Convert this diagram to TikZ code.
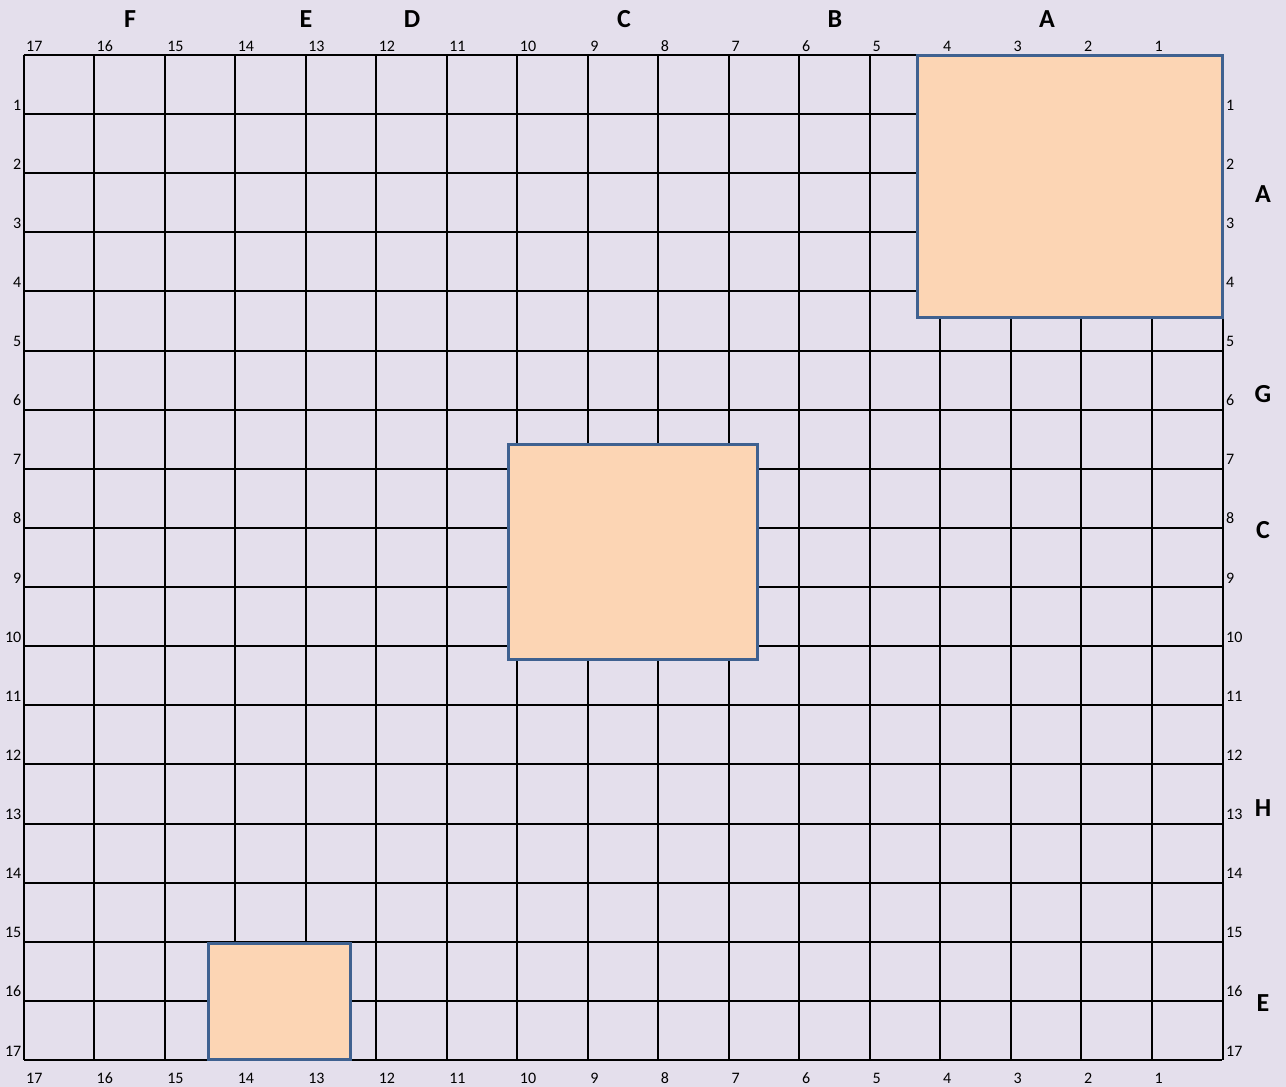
\documentclass[tikz,border=0pt]{standalone}
\usepackage{fontspec}
\setmainfont{Carlito}
\definecolor{bg}{HTML}{E4DFEC}
\definecolor{peach}{HTML}{FCD5B4}
\definecolor{edgeblue}{HTML}{3F6190}
\tikzset{
  gridline/.style={black, line width=2pt},
  block/.style={fill=peach, draw=edgeblue, line width=3pt},
  numlbl/.style={inner sep=0pt, font=\fontsize{16}{16}\selectfont},
  letlbl/.style={inner sep=0pt, font=\fontsize{26}{26}\selectfont\bfseries},
}
\begin{document}
\begin{tikzpicture}[x=1pt,y=-1pt]
\useasboundingbox[fill=bg] (0,0) rectangle (1286,1087);
% grid
\foreach \i in {0,...,17} {
  \draw[gridline] ({23.5+70.53*\i},55) -- ({23.5+70.53*\i},1060);
  \draw[gridline] (23.5,{55+59.12*\i}) -- (1222,{55+59.12*\i});
}
% blocks
\draw[block] (917,55) rectangle (1222,317);
\draw[block] (508,444) rectangle (757,659);
\draw[block] (208,943) rectangle (350,1059);
% column numbers
\foreach \i in {0,...,16} {
  \pgfmathtruncatemacro{\n}{17-\i}
  \node[numlbl, anchor=base west] (t\n) at ({26+70.53*\i},51) {\n};
  \node[numlbl, anchor=base west] (b\n) at ({26+70.53*\i},1083) {\n};
}
% row numbers
\foreach \r in {1,...,17} {
  \node[numlbl, anchor=base east] (l\r) at (21.5,{55+59.12*\r-4}) {\r};
  \node[numlbl, anchor=base west] (r\r) at (1226,{55+59.12*\r-4}) {\r};
}
% top letters
\node[letlbl] (lf) at (130,19) {F};
\node[letlbl] (le) at (306,19) {E};
\node[letlbl] (ld) at (412,19) {D};
\node[letlbl] (lc) at (624,19) {C};
\node[letlbl] (lb) at (835,19) {B};
\node[letlbl] (la) at (1047,19) {A};
% right letters
\node[letlbl] (ra) at (1263,194) {A};
\node[letlbl] (rg) at (1263,394) {G};
\node[letlbl] (rc) at (1263,530) {C};
\node[letlbl] (rh) at (1263,808) {H};
\node[letlbl] (re) at (1263,1003) {E};
\end{tikzpicture}
\end{document}
